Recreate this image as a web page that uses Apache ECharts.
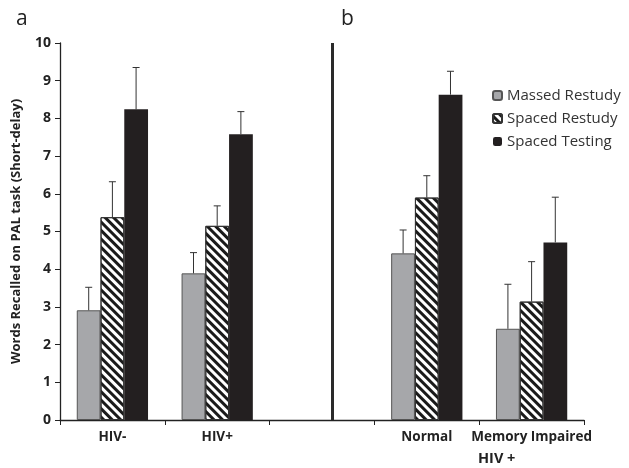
<!DOCTYPE html>
<html>
<head>
<meta charset="utf-8">
<script src="https://cdn.jsdelivr.net/npm/echarts@6/dist/echarts.min.js"></script>
<style>
  html, body { margin: 0; padding: 0; background: #fff; }
  #chart { width: 629px; height: 468px; }
</style>
</head>
<body>
<div id="chart"></div>
<script>
// groups on the x axis, the empty slot holds the panel divider
const categories = ['HIV-', 'HIV+', '', 'Normal', 'Memory Impaired']
const seriesNames = ['Massed Restudy', 'Spaced Restudy', 'Spaced Testing']

const massed = [2.91, 3.89, null, 4.42, 2.42]
const spacedRestudy = [5.38, 5.15, null, 5.90, 3.14]
const spacedTesting = [8.24, 7.58, null, 8.63, 4.71]

// upper error bar lengths
const massedErr = [0.61, 0.55, null, 0.62, 1.18]
const spacedRestudyErr = [0.94, 0.53, null, 0.58, 1.06]
const spacedTestingErr = [1.11, 0.60, null, 0.62, 1.20]

const yTicks = [0, 1, 2, 3, 4, 5, 6, 7, 8, 9, 10]
const dividerAt = 2.6

let myChart = echarts.init(document.getElementById('chart'))

const font = '"Open Sans", Lato, sans-serif'
const barOffsets = [-0.226, 0, 0.226]

function errSeries(vals, errs, idx) {
  let data = []
  vals.forEach((v, i) => {
    if (v != null) data.push([i, v, errs[i]])
  })
  return {
    type: 'custom',
    name: seriesNames[idx] + ' err',
    z: 5,
    silent: true,
    data: data,
    encode: { x: 0, y: 1 },
    renderItem: (params, api) => {
      let c = api.value(0)
      let v = api.value(1)
      let e = api.value(2)
      let band = api.size([1, 0])[0]
      let p0 = api.coord([c, v])
      let p1 = api.coord([c, v + e])
      let x = p0[0] + barOffsets[idx] * band
      let style = { stroke: '#333', lineWidth: 1 }
      return {
        type: 'group',
        children: [
          { type: 'line', shape: { x1: x, y1: p0[1], x2: x, y2: p1[1] }, style: style },
          { type: 'line', shape: { x1: x - 3.5, y1: p1[1], x2: x + 3.5, y2: p1[1] }, style: style }
        ]
      }
    }
  }
}

myChart.setOption({
  animation: false,
  backgroundColor: '#fff',
  textStyle: { fontFamily: font },
  grid: { left: 60, right: 45, top: 43, bottom: 48 },
  legend: {
    data: seriesNames,
    orient: 'vertical',
    left: 487,
    top: 83,
    itemWidth: 9,
    itemHeight: 9,
    itemGap: 8,
    textStyle: { fontSize: 15, color: '#333', fontFamily: font }
  },
  graphic: [
    { type: 'text', left: 16, top: 9, style: { text: 'a', fontSize: 21, fill: '#222', fontFamily: font } },
    { type: 'text', left: 341, top: 9, style: { text: 'b', fontSize: 21, fill: '#222', fontFamily: font } },
    { type: 'text', left: 478, top: 451, style: { text: 'HIV +', fontSize: 14.5, fontWeight: 'bold', fill: '#222', fontFamily: font } }
  ],
  xAxis: [
    {
      type: 'category',
      data: categories,
      axisLine: { lineStyle: { color: '#222', width: 1.3 } },
      axisTick: { show: true, length: 5, lineStyle: { color: '#222' } },
      axisLabel: { fontSize: 13.5, fontWeight: 'bold', color: '#222', margin: 10, interval: 0 }
    },
    { type: 'value', min: 0, max: 5, show: false }
  ],
  yAxis: {
    type: 'value',
    min: 0,
    max: 10,
    interval: 1,
    name: 'Words Recalled on PAL task (Short-delay)',
    nameLocation: 'middle',
    nameGap: 37,
    nameTextStyle: { fontSize: 13, fontWeight: 'bold', color: '#222' },
    axisLine: { show: true, lineStyle: { color: '#222', width: 1.3 } },
    axisTick: { show: true, length: 5, lineStyle: { color: '#222' } },
    axisLabel: { fontSize: 14, fontWeight: 'bold', color: '#222', margin: 9, formatter: v => yTicks.includes(v) ? v : '' },
    splitLine: { show: false }
  },
  series: [
    {
      type: 'bar',
      name: seriesNames[0],
      data: massed,
      barGap: '0%',
      barCategoryGap: '32%',
      itemStyle: { color: '#a6a7aa', borderColor: '#555', borderWidth: 1 }
    },
    {
      type: 'bar',
      name: seriesNames[1],
      data: spacedRestudy,
      barGap: '0%',
      barCategoryGap: '32%',
      itemStyle: {
        color: '#fff',
        borderColor: '#333',
        borderWidth: 1,
        decal: {
          symbol: 'rect',
          symbolSize: 1,
          dashArrayX: [[1, 0]],
          dashArrayY: [3, 3],
          rotation: Math.PI / 4,
          color: '#1a1a1a'
        }
      }
    },
    {
      type: 'bar',
      name: seriesNames[2],
      data: spacedTesting,
      barGap: '0%',
      barCategoryGap: '32%',
      itemStyle: { color: '#231f20' }
    },
    errSeries(massed, massedErr, 0),
    errSeries(spacedRestudy, spacedRestudyErr, 1),
    errSeries(spacedTesting, spacedTestingErr, 2),
    {
      type: 'line',
      name: 'divider',
      xAxisIndex: 1,
      data: [],
      silent: true,
      markLine: {
        symbol: 'none',
        silent: true,
        label: { show: false },
        lineStyle: { color: '#2a2a2a', width: 3, type: 'solid' },
        data: [{ xAxis: dividerAt }]
      }
    }
  ]
})
</script>
</body>
</html>
